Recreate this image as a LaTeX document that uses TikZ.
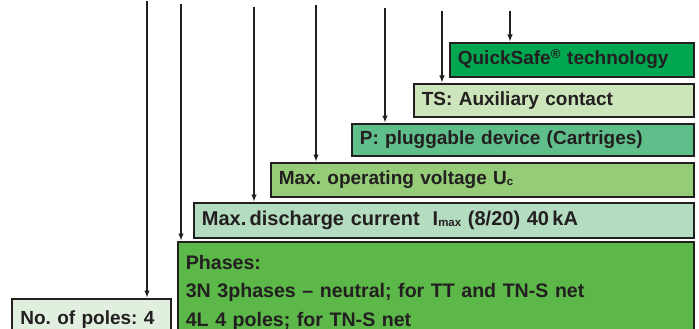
\documentclass[tikz,border=0pt]{standalone}
\usepackage{fontspec}
\setmainfont{Liberation Sans}
\usetikzlibrary{arrows.meta}

\definecolor{boxline}{HTML}{231F20}
\definecolor{qsgreen}{HTML}{00A650}
\definecolor{tsgreen}{HTML}{CCE5BB}
\definecolor{pluggreen}{HTML}{5FBE8A}
\definecolor{voltgreen}{HTML}{95CC77}
\definecolor{dischgreen}{HTML}{B3DCC0}
\definecolor{phasegreen}{HTML}{5CB848}
\definecolor{polegreen}{HTML}{E1F0DE}

\newcommand{\smallsub}[1]{\raisebox{-1pt}{\fontsize{11.5}{11.5}\selectfont #1}}

\tikzset{
  box/.style={draw=boxline, line width=1.7pt, anchor=north west, align=left,
    inner xsep=8pt, inner ysep=0pt, text=boxline,
    font=\bfseries\fontsize{19}{28}\selectfont},
  oneline/.style={box, text height=14pt, text depth=4pt},
  pointer/.style={-{Latex[length=7.5pt,width=5.5pt]}, line width=1.5pt, draw=boxline}
}

\begin{document}
\frenchspacing
\begin{tikzpicture}[x=1pt, y=-1pt]
    \useasboundingbox (0,0) rectangle (699,329);

    % option boxes, right edges aligned
    \node[oneline, fill=qsgreen, minimum width=244pt, minimum height=34pt, text width=228pt]
        (qs) at (449,42) {QuickSafe\textsuperscript{\fontsize{13}{13}\selectfont ®} technology};
    \node[oneline, fill=tsgreen, minimum width=280pt, minimum height=33pt, text width=264pt]
        (ts) at (413,83) {TS: Auxiliary contact};
    \node[oneline, fill=pluggreen, minimum width=342pt, minimum height=32pt, text width=326pt]
        (plug) at (351,123) {P: pluggable device (Cartriges)};
    \node[oneline, fill=voltgreen, minimum width=423pt, minimum height=34pt, text width=407pt]
        (volt) at (270,162) {Max. operating voltage U\smallsub{c}};
    \node[oneline, fill=dischgreen, minimum width=500pt, minimum height=35pt, text width=484pt,
        font=\bfseries\fontsize{20}{28}\selectfont]
        (disch) at (193,202) {Max.\,discharge current\hspace{13pt}I\smallsub{max} (8/20) 40\,kA};

    % phases and poles run off the bottom edge
    \node[box, fill=phasegreen, text width=500pt, inner ysep=13pt,
        font=\bfseries\fontsize{19.6}{28.5}\selectfont]
        (phases) at (177,241) {Phases:\\3N 3phases -- neutral; for TT and TN-S net\\4L 4 poles; for TN-S net};
    \node[box, fill=polegreen, text width=142pt, inner xsep=8.5pt, inner ysep=12pt]
        (poles) at (11,298) {No. of poles: 4};

    % pointers from the code down to the boxes
    \foreach \x/\y/\target [count=\i] in {147/1/poles, 181/4/phases, 254/7/disch,
        316/5/volt, 385/8/plug, 442/11/ts, 510/11/qs} {
      \coordinate (top\i) at (\x,\y);
      \draw[pointer] (top\i) -- (top\i |- \target.north);
    }
\end{tikzpicture}
\end{document}
